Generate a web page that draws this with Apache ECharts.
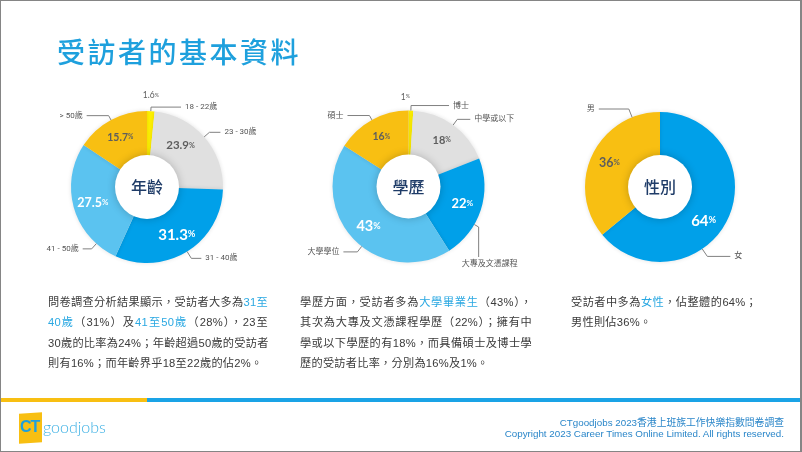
<!DOCTYPE html>
<html><head><meta charset="utf-8">
<script src="https://cdn.jsdelivr.net/npm/echarts@6/dist/echarts.min.js"></script>
<style>
html,body{margin:0;padding:0;background:#fff;}
#wrap{position:relative;width:802px;height:452px;overflow:hidden;background:#fff;}
#chart{position:absolute;left:0;top:0;width:802px;height:452px;}
#frame{position:absolute;left:0;top:0;width:802px;height:452px;box-sizing:border-box;border:1px solid #858585;border-right-width:2px;pointer-events:none;}
.title{position:absolute;left:57px;top:36px;font-family:"Noto Sans CJK TC";font-weight:500;font-size:28px;line-height:30px;letter-spacing:2.5px;color:#1ea0dd;white-space:nowrap;}
.para{position:absolute;font-family:"Liberation Sans","Noto Sans CJK TC";font-size:11.2px;line-height:20.3px;letter-spacing:0.25px;color:#3a3a3a;}
.para div{white-space:nowrap;text-align:justify;text-align-last:justify;}
.para div.last{text-align:left;text-align-last:left;}
.para .hl{color:#2aa8e2;}
.bar{position:absolute;top:398px;height:4px;}
.foot{position:absolute;right:18px;font-family:"Liberation Sans","Noto Sans CJK TC";font-size:9.8px;color:#2a86c9;white-space:nowrap;text-align:right;}
.logo-box{position:absolute;left:19px;top:413px;width:23px;height:30px;background:#f8bf12;transform:skewY(-4deg);}
.logo-ct{position:absolute;left:20px;top:418px;font-family:"Liberation Sans";font-weight:700;font-size:16px;color:#1ea0dd;letter-spacing:-1px;}
.logo-gj{position:absolute;left:43px;top:417px;font-family:"Lato";font-weight:300;font-size:16px;color:#3cb0e4;}
</style></head>
<body>
<div id="wrap">
  <div id="chart"></div>
  <div class="title">受訪者的基本資料</div>
  <div class="para" style="left:48px;top:292px;width:220px;">
    <div>問卷調查分析結果顯示，受訪者大多為<span class="hl">31至</span></div>
    <div><span class="hl">40歲</span>（31%）及<span class="hl">41至50歲</span>（28%），23至</div>
    <div>30歲的比率為24%；年齡超過50歲的受訪者</div>
    <div class="last">則有16%；而年齡界乎18至22歲的佔2%。</div>
  </div>
  <div class="para" style="left:300px;top:292px;width:232px;">
    <div>學歷方面，受訪者多為<span class="hl">大學畢業生</span>（43%），</div>
    <div>其次為大專及文憑課程學歷（22%）；擁有中</div>
    <div>學或以下學歷的有18%，而具備碩士及博士學</div>
    <div class="last">歷的受訪者比率，分別為16%及1%。</div>
  </div>
  <div class="para" style="left:571px;top:292px;width:186px;">
    <div>受訪者中多為<span class="hl">女性</span>，佔整體的64%；</div>
    <div class="last">男性則佔36%。</div>
  </div>
  <div class="bar" style="left:0;width:147px;background:#f8bf12;"></div>
  <div class="bar" style="left:147px;width:655px;background:#1aa3e6;"></div>
  <div class="logo-box"></div>
  <div class="logo-ct">CT</div>
  <div class="logo-gj">goodjobs</div>
  <div class="foot" style="top:415px;">CTgoodjobs 2023香港上班族工作快樂指數問卷調查</div>
  <div class="foot" style="top:428px;">Copyright 2023 Career Times Online Limited. All rights reserved.</div>
  <div id="frame"></div>
</div>
<script>
// ---- data ----
const ageCategories = ['18 - 22歲', '23 - 30歲', '31 - 40歲', '41 - 50歲', '> 50歲'];
const ageValues = [1.6, 23.9, 31.3, 27.5, 15.7];
const eduCategories = ['博士', '中學或以下', '大專及文憑課程', '大學學位', '碩士'];
const eduValues = [1, 18, 22, 43, 16];
const genderCategories = ['女', '男'];
const genderValues = [64, 36];
const centerTitles = ['年齡', '學歷', '性別'];

// ---- styles ----
const YEL = '#fff100', GRY = '#e0e0e0', BLU = '#00a0e9', LBL = '#5bc3f0', ORG = '#f8bf12';
const fiveColors = [YEL, GRY, BLU, LBL, ORG];
const twoColors = [BLU, ORG];
const DARK = '#5e5e5e', WHITE = '#ffffff';

const pies = [
  {
    names: ageCategories, values: ageValues, title: centerTitles[0],
    center: [147, 187], radius: [31, 76], colors: fiveColors,
    pctSize: [8.5, 11.5, 15, 12.5, 10.5], pctColor: [DARK, DARK, WHITE, WHITE, DARK], pctBold: [false, true, true, true, true],
    lines: [[4, 30], [7, 11], [8, 10], [6, 10], [5, 22]],
    anchors: {3: {angle: -131.8, len: 7, len2: 9}},
    pctShift: {0: [1, -35], 1: [-9, -4]}
  },
  {
    names: eduCategories, values: eduValues, title: centerTitles[1],
    center: [408.5, 186.5], radius: [31, 76], colors: fiveColors,
    pctSize: [8.5, 11, 13, 14.5, 10.5], pctColor: [DARK, DARK, WHITE, WHITE, DARK], pctBold: [false, true, true, true, true],
    lines: [[5, 38], [7, 13], [6, 10], [6, 12], [5, 22]],
    anchors: {2: {angle: -30, len: 5, len2: 30, down: true, offsetX: 11}, 3: {angle: -128, len: 7, len2: 14}},
    pctShift: {0: [-5, -33]}
  },
  {
    names: genderCategories, values: genderValues, title: centerTitles[2],
    center: [660, 187], radius: [31, 75], colors: twoColors,
    pctSize: [15, 12.5], pctColor: [WHITE, DARK], pctBold: [true, true],
    lines: [[6, 10], [6, 10]],
    anchors: {0: {angle: -55.7, len: 9, len2: 23}, 1: {angle: 111.8, len: 9, len2: 30}},
    pctShift: {0: [-7, 10]}
  }
];

function shiftLayout(shifts) {
  return function (p) {
    const s = shifts[p.dataIndex];
    if (!s) return {};
    const r = p.labelRect;
    return { x: r.x + r.width / 2 + s[0], y: r.y + r.height / 2 + s[1], align: 'center', verticalAlign: 'middle' };
  };
}

// leader line anchored at a chosen angle on the outer arc
function anchorLayout(pc) {
  return function (p) {
    const a = pc.anchors[p.dataIndex];
    if (!a) return {};
    const rad = a.angle * Math.PI / 180;
    const dx = Math.cos(rad), dy = -Math.sin(rad);
    const r = pc.radius[1];
    const x1 = pc.center[0] + r * dx, y1 = pc.center[1] + r * dy;
    const x2 = x1 + dx * a.len, y2 = y1 + dy * a.len;
    if (a.down) {
      const y3 = y2 + a.len2;
      return { x: x2 + a.offsetX, y: y3 + 6.5, align: 'center', verticalAlign: 'middle',
               labelLinePoints: [[x1, y1], [x2, y2], [x2, y3]] };
    }
    const side = dx < 0 ? -1 : 1;
    const x3 = x2 + side * a.len2;
    return { x: x3 + side * 4, y: y2, align: side < 0 ? 'right' : 'left', verticalAlign: 'middle',
             labelLinePoints: [[x1, y1], [x2, y2], [x3, y2]] };
  };
}

const series = [];
pies.forEach(function (pc) {
  series.push({
    type: 'pie', center: pc.center, radius: pc.radius, startAngle: 90, clockwise: true,
    silent: true, avoidLabelOverlap: false, z: 2,
    itemStyle: { shadowBlur: 4, shadowColor: 'rgba(0,0,0,0.12)' },
    label: { show: true, position: 'inside', fontFamily: 'Lato' },
    labelLine: { show: false },
    labelLayout: shiftLayout(pc.pctShift),
    data: pc.values.map(function (v, i) {
      const fs = pc.pctSize[i];
      return {
        value: v, name: pc.names[i],
        itemStyle: { color: pc.colors[i] },
        label: {
          formatter: '{n|' + v + '}{p|%}',
          rich: {
            n: { fontSize: fs, fontWeight: pc.pctBold[i] ? 'bold' : 'normal', color: pc.pctColor[i], fontFamily: 'Lato' },
            p: { fontSize: fs * 0.62, fontWeight: pc.pctBold[i] ? 'bold' : 'normal', color: pc.pctColor[i], fontFamily: 'Lato', padding: [0, 0, 1, 0] }
          }
        }
      };
    })
  });
  series.push({
    type: 'pie', center: pc.center, radius: pc.radius, startAngle: 90, clockwise: true,
    silent: true, z: 3,
    itemStyle: { color: 'rgba(0,0,0,0)' },
    label: { show: true, position: 'outside', formatter: '{b}', fontSize: 8, color: '#555', fontFamily: 'Roboto, "Noto Sans CJK TC"', distanceToLabelLine: 4 },
    labelLine: { show: true, lineStyle: { color: '#808080', width: 1 } },
    labelLayout: anchorLayout(pc),
    data: pc.values.map(function (v, i) {
      return { value: v, name: pc.names[i], labelLine: { length: pc.lines[i][0], length2: pc.lines[i][1] } };
    })
  });
  series.push({
    type: 'pie', center: pc.center, radius: [0, pc.radius[0] + 1], silent: true, z: 4,
    itemStyle: { color: '#fff', shadowBlur: 8, shadowColor: 'rgba(0,0,0,0.22)' },
    label: { show: true, position: 'center', formatter: '{b}', fontSize: 16, fontWeight: 500, color: '#1f3c68', fontFamily: '"Noto Sans CJK TC"' },
    labelLine: { show: false },
    data: [{ value: 1, name: pc.title }]
  });
});

const chart = echarts.init(document.getElementById('chart'), null, { renderer: 'canvas' });
chart.setOption({ animation: false, series: series });
</script>
</body></html>
